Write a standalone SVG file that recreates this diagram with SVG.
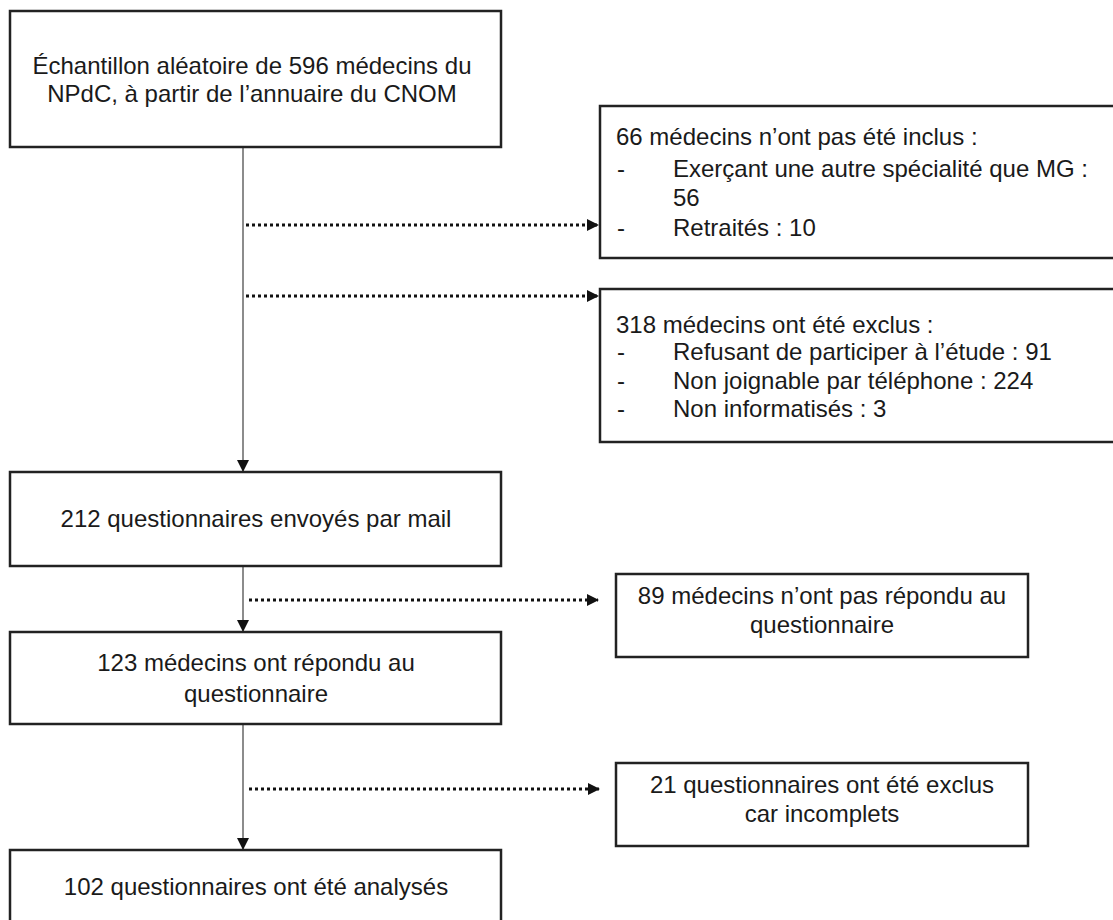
<svg xmlns="http://www.w3.org/2000/svg" width="1113" height="920" viewBox="0 0 1113 920">
<style>
.box{fill:#fff;stroke:#222;stroke-width:2.5}
.t{font-family:"Liberation Sans",Arial,sans-serif;font-size:24px;fill:#1a1a1a}
.c{text-anchor:middle}
.v{stroke:#666;stroke-width:1.5;fill:none}
.d{stroke:#111;stroke-width:3;stroke-dasharray:3 3;fill:none}
</style>
<defs>
<marker id="ah" markerWidth="12" markerHeight="12" refX="11" refY="6" orient="auto" markerUnits="userSpaceOnUse">
<path d="M0,0 L12,6 L0,12 Z" fill="#111"/>
</marker>
</defs>
<rect width="1113" height="920" fill="#fff"/>
<g id="connectors">
<line class="v" x1="243" y1="147" x2="243" y2="471" marker-end="url(#ah)"/>
<line class="v" x1="243" y1="566" x2="243" y2="631" marker-end="url(#ah)"/>
<line class="v" x1="243" y1="724" x2="243" y2="849" marker-end="url(#ah)"/>
<line class="d" x1="246" y1="225" x2="598" y2="225" marker-end="url(#ah)"/>
<line class="d" x1="246" y1="296" x2="598" y2="296" marker-end="url(#ah)"/>
<line class="d" x1="249" y1="600" x2="598" y2="600" marker-end="url(#ah)"/>
<line class="d" x1="249" y1="789" x2="599" y2="789" marker-end="url(#ah)"/>
</g>
<g id="n1">
<rect class="box" x="10" y="11" width="491" height="136"/>
<text class="t c" x="252" y="74">Échantillon aléatoire de 596 médecins du</text>
<text class="t c" x="252" y="102">NPdC, à partir de l’annuaire du CNOM</text>
</g>
<g id="n2">
<rect class="box" x="600" y="106" width="530" height="152"/>
<text class="t" x="616" y="145">66 médecins n’ont pas été inclus :</text>
<text class="t" x="617" y="177">-</text>
<text class="t" x="673" y="177">Exerçant une autre spécialité que MG :</text>
<text class="t" x="673" y="206">56</text>
<text class="t" x="617" y="236">-</text>
<text class="t" x="673" y="236">Retraités : 10</text>
</g>
<g id="n3">
<rect class="box" x="600" y="289" width="530" height="153"/>
<text class="t" x="616" y="333">318 médecins ont été exclus :</text>
<text class="t" x="617" y="360">-</text>
<text class="t" x="673" y="360">Refusant de participer à l’étude : 91</text>
<text class="t" x="617" y="389">-</text>
<text class="t" x="673" y="389">Non joignable par téléphone : 224</text>
<text class="t" x="617" y="417">-</text>
<text class="t" x="673" y="417">Non informatisés : 3</text>
</g>
<g id="n4">
<rect class="box" x="10" y="472" width="491" height="94"/>
<text class="t c" x="256" y="527">212 questionnaires envoyés par mail</text>
</g>
<g id="n5">
<rect class="box" x="616" y="574" width="412" height="83"/>
<text class="t c" x="822" y="604">89 médecins n’ont pas répondu au</text>
<text class="t c" x="822" y="633">questionnaire</text>
</g>
<g id="n6">
<rect class="box" x="10" y="632" width="491" height="92"/>
<text class="t c" x="256" y="671">123 médecins ont répondu au</text>
<text class="t c" x="256" y="702">questionnaire</text>
</g>
<g id="n7">
<rect class="box" x="616" y="763" width="412" height="83"/>
<text class="t c" x="822" y="793">21 questionnaires ont été exclus</text>
<text class="t c" x="822" y="822">car incomplets</text>
</g>
<g id="n8">
<rect class="box" x="10" y="850" width="491" height="100"/>
<text class="t c" x="256" y="895">102 questionnaires ont été analysés</text>
</g>
</svg>
